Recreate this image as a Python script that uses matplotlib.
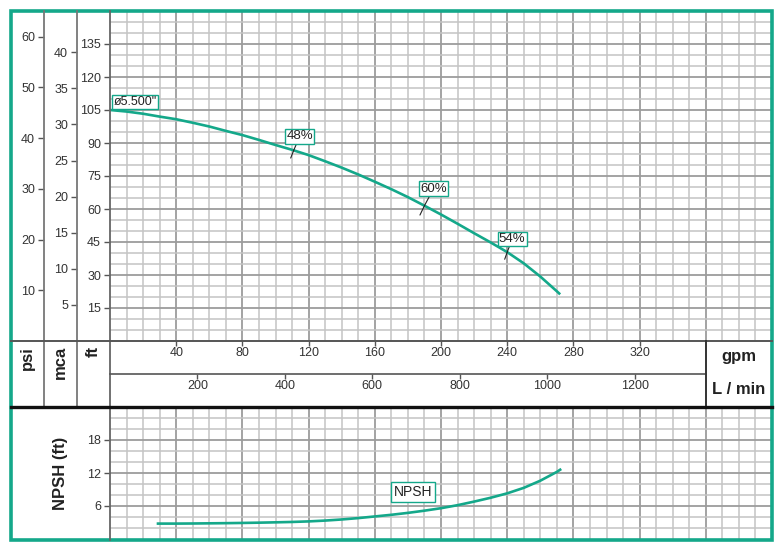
"""Pump performance curve: head / NPSH vs flow"""

import numpy as np
import matplotlib.pyplot as plt
from matplotlib.lines import Line2D
from matplotlib.patches import Rectangle

plt.rcParams["font.family"] = ["Liberation Sans", "DejaVu Sans"]

# head curve (ft) vs flow (gpm)
flow_gpm = [0, 10, 20, 30, 40, 50, 60, 70, 80, 90, 100, 110, 120, 130, 140,
            150, 160, 170, 180, 190, 200, 210, 220, 230, 240, 250, 260, 270, 272]
head_ft = [105, 104.3, 103.3, 102, 100.8, 99.2, 97.5, 95.5, 93.6, 91.4, 89.1,
           86.9, 84.5, 81.7, 78.8, 75.7, 72.4, 69, 65.4, 61.5, 57.5, 53.3, 49,
           44.8, 40.4, 35.3, 29.3, 22.6, 21.2]

# efficiency marks along the head curve
eff_labels = ["48%", "60%", "54%"]
eff_gpm = [111, 190, 240]

impeller_label = 'ø5.500"'

# NPSH required (ft) vs flow (gpm)
npsh_gpm = [29, 40, 50, 60, 70, 80, 90, 100, 110, 120, 130, 140, 150, 160,
            170, 180, 190, 200, 210, 220, 230, 240, 250, 260, 270, 272]
npsh_ft = [2.8, 2.8, 2.82, 2.85, 2.88, 2.92, 2.97, 3.03, 3.1, 3.2, 3.35, 3.55,
           3.8, 4.1, 4.4, 4.75, 5.15, 5.6, 6.15, 6.8, 7.5, 8.3, 9.3, 10.6,
           12.2, 12.6]

# axis tick values
ft_ticks = [15, 30, 45, 60, 75, 90, 105, 120, 135]
mca_ticks = [5, 10, 15, 20, 25, 30, 35, 40]
psi_ticks = [10, 20, 30, 40, 50, 60]
gpm_ticks = [40, 80, 120, 160, 200, 240, 280, 320]
lpm_ticks = [200, 400, 600, 800, 1000, 1200]
npsh_ticks = [6, 12, 18]

FT_PER_M = 3.2808
FT_PER_PSI = 2.3067
LPM_PER_GPM = 3.7854

GREEN = "#14a88a"
TXT = "#333333"
W, H = 783, 558
TICK_FS = 9


def px_rect(x0, y0, x1, y1):
    """pixel box (top-left origin) -> figure fraction rect"""
    return [x0 / W, 1 - y1 / H, (x1 - x0) / W, (y1 - y0) / H]


def grid_axes(ax, xmax, ymax, ymin_step):
    ax.set_xlim(0, xmax)
    ax.set_ylim(0, ymax)
    ax.set_xticks(np.arange(10, xmax, 10), minor=True)
    ax.set_yticks(np.arange(ymin_step, ymax, ymin_step), minor=True)
    ax.grid(which="minor", color="#c4c4c4", lw=1.1)
    ax.grid(which="major", color="#9c9c9c", lw=1.3)
    ax.tick_params(axis="x", which="both", length=0, labelbottom=False)
    ax.tick_params(axis="y", which="minor", length=0)
    ax.tick_params(axis="y", which="major", length=4.5, width=1, color="#555555",
                   labelsize=TICK_FS, labelcolor=TXT, pad=2)
    ax.set_axisbelow(True)
    for s in ax.spines.values():
        s.set_visible(False)


fig = plt.figure(figsize=(W / 100, H / 100), dpi=100)

# main head chart
ax = fig.add_axes(px_rect(110, 11, 772, 341))
grid_axes(ax, 400, 150, 5)
ax.set_xticks(np.arange(40, 400, 40))
ax.set_yticks(ft_ticks)
ax.plot(flow_gpm, head_ft, color=GREEN, lw=1.9, zorder=3, solid_capstyle="butt")

eff_head = np.interp(eff_gpm, flow_gpm, head_ft)
offsets = [(6, 14), (9, 17), (5, 13)]
for lab, g, h, off in zip(eff_labels, eff_gpm, eff_head, offsets):
    ax.annotate(lab, xy=(g, h), xytext=off, textcoords="offset pixels",
                ha="center", va="center", fontsize=9.5, color="#222222", zorder=5,
                bbox=dict(boxstyle="square,pad=0.1", fc="white", ec=GREEN, lw=1),
                arrowprops=dict(arrowstyle="-", color="#222222", lw=0.8,
                                shrinkA=0, shrinkB=0))
    ax.annotate("", xy=(g, h), xytext=(-off[0] * 0.5, -off[1] * 0.55),
                textcoords="offset pixels", zorder=5,
                arrowprops=dict(arrowstyle="-", color="#222222", lw=0.8,
                                shrinkA=0, shrinkB=0))

ax.annotate(impeller_label, xy=(flow_gpm[0], head_ft[0]), xytext=(25, 8),
            textcoords="offset pixels", ha="center", va="center", fontsize=9,
            color="#222222", zorder=5,
            bbox=dict(boxstyle="square,pad=0.1", fc="white", ec=GREEN, lw=1))

# mca and psi scales
ax_mca = fig.add_axes(px_rect(77, 11, 110, 341))
ax_psi = fig.add_axes(px_rect(44, 11, 77, 341))
for a, lim, ticks in [(ax_mca, 150 / FT_PER_M, mca_ticks),
                      (ax_psi, 150 / FT_PER_PSI, psi_ticks)]:
    a.set_ylim(0, lim)
    a.set_yticks(ticks)
    a.set_xticks([])
    a.patch.set_visible(False)
    for s in a.spines.values():
        s.set_visible(False)
    a.tick_params(axis="y", length=4.5, width=1, color="#555555",
                  labelsize=TICK_FS, labelcolor=TXT, pad=2)

# flow scales band
ax_gpm = fig.add_axes(px_rect(110, 341, 772, 374))
ax_lpm = fig.add_axes(px_rect(110, 374, 772, 407))
for a, lim, ticks in [(ax_gpm, 400, gpm_ticks),
                      (ax_lpm, 400 * LPM_PER_GPM, lpm_ticks)]:
    a.set_xlim(0, lim)
    a.set_ylim(0, 1)
    a.set_yticks([])
    a.set_xticks(ticks)
    a.patch.set_visible(False)
    for s in a.spines.values():
        s.set_visible(False)
    a.tick_params(axis="x", bottom=False, top=True, direction="in", length=3.5,
                  width=1, color="#555555", labelbottom=False, labeltop=False)
    for t in ticks:
        a.text(t, 0.63, str(t), ha="center", va="center", fontsize=TICK_FS,
               color=TXT)

# NPSH chart
ax_n = fig.add_axes(px_rect(110, 407, 772, 539))
grid_axes(ax_n, 400, 24, 2)
ax_n.set_xticks(np.arange(40, 400, 40))
ax_n.set_yticks(npsh_ticks)
ax_n.plot(npsh_gpm, npsh_ft, color=GREEN, lw=1.9, zorder=3)
ax_n.text(183, 8.5, "NPSH", ha="center", va="center", fontsize=10, color="#222222",
          zorder=5, bbox=dict(boxstyle="square,pad=0.2", fc="white", ec=GREEN, lw=1))

# frame, separators and unit labels (pixel overlay)
fr = fig.add_axes([0, 0, 1, 1])
fr.set_xlim(0, W)
fr.set_ylim(H, 0)
fr.axis("off")
fr.patch.set_visible(False)

seps = [
    ((44, 44), (11, 407), "#777777", 1.3),
    ((77, 77), (11, 407), "#777777", 1.3),
    ((110, 110), (11, 540), "#666666", 1.3),
    ((11, 772), (341, 341), "#555555", 1.4),
    ((110, 706), (374, 374), "#555555", 1.2),
    ((706, 706), (341, 407), "#333333", 1.4),
    ((11, 772), (407, 407), "#111111", 2.4),
]
for xs, ys, c, lw in seps:
    fr.add_line(Line2D(xs, ys, color=c, lw=lw))

fr.add_patch(Rectangle((11, 11), 761, 529, fill=False, ec=GREEN, lw=2.6))

for x, lab in [(27, "psi"), (60, "mca"), (93, "ft")]:
    fr.text(x, 346, lab, rotation=90, ha="center", va="top", fontsize=12,
            fontweight="bold", color="#222222")
fr.text(739, 357, "gpm", ha="center", va="center", fontsize=12,
        fontweight="bold", color="#222222")
fr.text(739, 390, "L / min", ha="center", va="center", fontsize=12,
        fontweight="bold", color="#222222")
fr.text(60, 473, "NPSH (ft)", rotation=90, ha="center", va="center",
        fontsize=12, fontweight="bold", color="#222222")

fig.savefig("out.png", dpi=100)
